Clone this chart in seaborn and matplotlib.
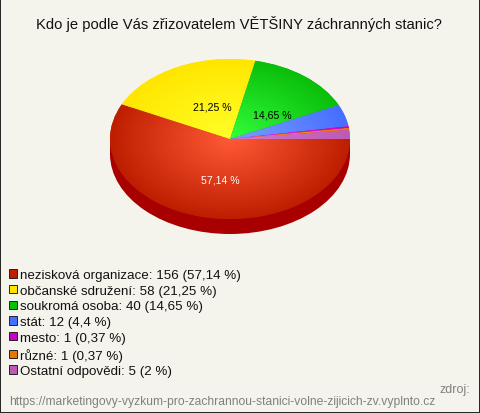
import matplotlib
matplotlib.use("Agg")
import matplotlib.pyplot as plt
from matplotlib.colors import LinearSegmentedColormap
from matplotlib.patches import Ellipse, Patch, Rectangle
import numpy as np
import seaborn as sns

title = "Kdo je podle Vás zřizovatelem VĚTŠINY záchranných stanic?"
categories = ["nezisková organizace", "občanské sdružení", "soukromá osoba", "stát",
              "mesto", "různé", "Ostatní odpovědi"]
counts = [156, 58, 40, 12, 1, 1, 5]
percents = ["57,14", "21,25", "14,65", "4,4", "0,37", "0,37", "2"]
legend_colors = ["#BE1E00", "#FFE600", "#0ABE0A", "#466EFF", "#C800C8", "#E67800", "#BE5AB4"]
inner_colors = ["#FF5A37", "#FFFF28", "#32FF3C", "#78A0FF", "#FF32FF", "#FFA028", "#D278D2"]
source_url = "https://marketingovy-vyzkum-pro-zachrannou-stanici-volne-zijicich-zv.vyplnto.cz"

BG = "#F5F4EC"
W, H = 480, 414
CX, CY, RX, RY, DEPTH = 230, 140, 120, 80, 15

sns.set_theme(style="white")
plt.rcParams["font.family"] = ["Liberation Sans", "DejaVu Sans"]

fig = plt.figure(figsize=(W / 100, H / 100), dpi=100, facecolor=BG)
ax = fig.add_axes([0, 0, 1, 1])

wedges, _ = ax.pie(counts, colors=legend_colors, startangle=0, counterclock=False,
                   wedgeprops={"linewidth": 0})
for w in wedges:
    w.set_zorder(3)

# side of the pie, a darker ellipse pushed down
ax.add_patch(Ellipse((0, -DEPTH / RY), 2, 2, facecolor="#A80000", edgecolor="none", zorder=1))
ax.add_patch(Rectangle((-1, -DEPTH / RY), 2, DEPTH / RY, facecolor="#A80000", edgecolor="none", zorder=1))

# radial shading, clipped to each wedge
grid = np.linspace(-1, 1, 400)
xx, yy = np.meshgrid(grid, grid)
radius = np.clip(np.hypot(xx, yy), 0, 1)
for w, inner, outer in zip(wedges, inner_colors, legend_colors):
    cmap = LinearSegmentedColormap.from_list("shade", [inner, outer])
    im = ax.imshow(radius, extent=(-1, 1, -1, 1), origin="lower", cmap=cmap, vmin=0, vmax=1,
                   aspect="auto", zorder=4)
    im.set_clip_path(w)

# the data coordinates cover the whole figure so that the pie comes out as an ellipse
ax.set_aspect("auto")
ax.set_xlim(-CX / RX, (W - CX) / RX)
ax.set_ylim((CY - H) / RY, CY / RY)
ax.axis("off")


def px(x, y):
    return x / W, 1 - y / H


fig.text(*px(239, 24), title, ha="center", va="center", fontsize=10.65, color="#111111")

fig.text(*px(220, 181), percents[0] + " %", ha="center", va="center", fontsize=7.6, color="white", zorder=6)
fig.text(*px(212, 108), percents[1] + " %", ha="center", va="center", fontsize=7.6, color="black", zorder=6)
fig.text(*px(272, 115), percents[2] + " %", ha="center", va="center", fontsize=7.6, color="black", zorder=6)

handles = [Patch(facecolor=c, edgecolor="#222222", linewidth=0.7) for c in legend_colors]
labels = [f"{c}: {n} ({p} %)" for c, n, p in zip(categories, counts, percents)]
fig.legend(handles, labels, loc="upper left", bbox_to_anchor=px(9, 270), frameon=False,
           fontsize=9.6, handlelength=0.6, handleheight=0.6, handletextpad=0.25,
           labelspacing=0.28, borderaxespad=0, borderpad=0, labelcolor="#111111")

fig.text(*px(470, 390), "zdroj:", ha="right", va="center", fontsize=9, color="#808080")
fig.text(*px(9, 402), source_url, ha="left", va="center", fontsize=8.74, color="#808080")

fig.add_artist(Rectangle((0, 0), 1, 1, transform=fig.transFigure, fill=False,
                         edgecolor="#222222", linewidth=1.4))

fig.savefig("out.png", dpi=100, facecolor=BG)
